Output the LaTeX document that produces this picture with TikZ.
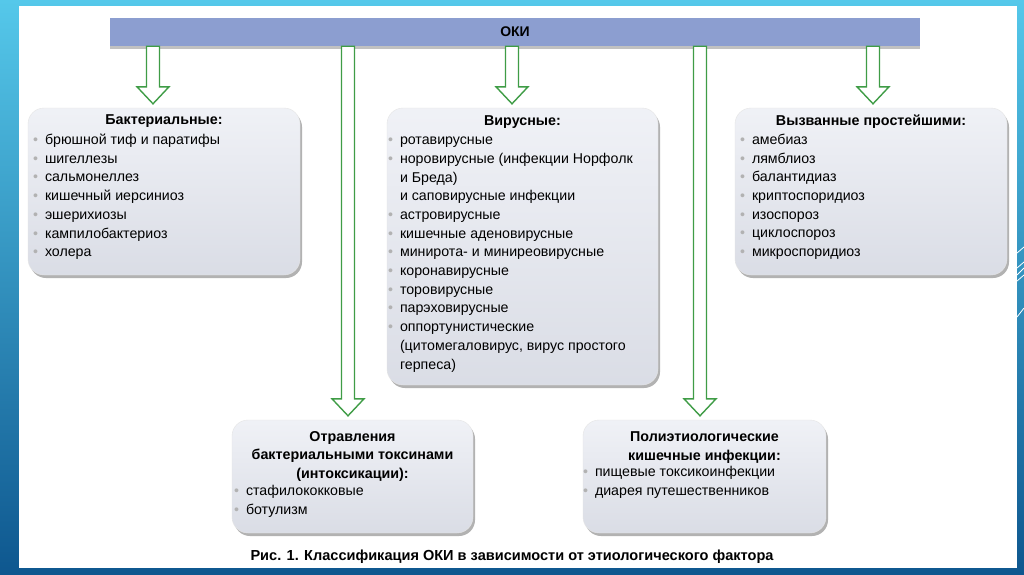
\documentclass[tikz,border=0pt]{standalone}
\usepackage{fontspec}
\setmainfont{Liberation Sans}
\usetikzlibrary{positioning,shadows,calc}
\definecolor{okigreen}{HTML}{3F9C46}
\definecolor{okibar}{HTML}{8C9ED0}
\definecolor{okifill}{HTML}{E3E6EF}
\definecolor{frametop}{HTML}{55C8EA}
\definecolor{framebot}{HTML}{0E578F}
\newcommand{\itm}{\makebox[12pt][l]{\textcolor{black!30}{\textbullet}}}
\newcommand{\cnt}{\hspace*{12pt}}
\newcommand{\okiarrow}[2]{%
  \draw[hollowarrow] let \p1=(oki.south), \p2=(#2.north) in
    (#1pt-6.5pt,\y1) -- (#1pt+6.5pt,\y1) -- (#1pt+6.5pt,\y2+21pt) -- (#1pt+16pt,\y2+21pt)
    -- (#1pt,\y2+4pt) -- (#1pt-16pt,\y2+21pt) -- (#1pt-6.5pt,\y2+21pt) -- cycle;}
\tikzset{
  okibox/.style={rounded corners=16pt, top color=okifill!55!white, bottom color=okifill!96!black,
    draw=black!10, drop shadow={shadow xshift=2pt, shadow yshift=-3pt, opacity=.5, fill=black!60}},
  okibarstyle/.style={fill=okibar, drop shadow={shadow xshift=0pt, shadow yshift=-3pt, opacity=.4, fill=black!60},
    minimum width=810pt, minimum height=28pt, font=\fontsize{14}{16}\selectfont\bfseries},
  hollowarrow/.style={draw=okigreen, fill=white, line width=1.4pt, line join=miter},
  boxtitle/.style={font=\fontsize{14.3}{18.4}\selectfont\bfseries, align=center, inner sep=0pt},
  boxlist/.style={font=\fontsize{14.2}{18.7}\selectfont, align=left, inner sep=0pt, anchor=north west},
  captiontext/.style={font=\fontsize{14.55}{18}\selectfont\bfseries, inner sep=0pt}
}
\begin{document}
\begin{tikzpicture}[x=1pt,y=-1pt]
  \useasboundingbox (0,0) rectangle (1024,574);
  \fill[top color=frametop, bottom color=framebot] (0,0) rectangle (1024,574);
  \fill[white] (19,6) rectangle (1017,568);
  \foreach \a/\b in {253/247,268/262,275/268,281/275,317/308}
    \draw[white, line width=0.8pt] (1017,\a) -- (1024,\b);

  \node[okibarstyle] (oki) at (515,32) {ОКИ};

  \node[okibox, minimum width=272pt, minimum height=167pt] (bact) at (164,191.5) {};
  \node[boxtitle, below=7pt of bact.north] (bacttitle) {Бактериальные:};
  \node[boxlist, below right=26pt and 5pt of bact.north west] (bactlist) {\itm брюшной тиф и паратифы\\
    \itm шигеллезы\\ \itm сальмонеллез\\ \itm кишечный иерсиниоз\\ \itm эшерихиозы\\
    \itm кампилобактериоз\\ \itm холера};

  \node[okibox, minimum width=271pt, minimum height=277pt] (vir) at (522.5,246.5) {};
  \node[boxtitle, below=8pt of vir.north] (virtitle) {Вирусные:};
  \node[boxlist, below right=29pt and 1pt of vir.north west] (virlist) {\itm ротавирусные\\
    \itm норовирусные (инфекции Норфолк\\ \cnt и Бреда)\\ \cnt и саповирусные инфекции\\
    \itm астровирусные\\ \itm кишечные аденовирусные\\ \itm минирота- и миниреовирусные\\
    \itm коронавирусные\\ \itm торовирусные\\ \itm парэховирусные\\ \itm оппортунистические\\
    \cnt (цитомегаловирус, вирус простого\\ \cnt герпеса)};

  \node[okibox, minimum width=272pt, minimum height=167pt] (prot) at (871,191.5) {};
  \node[boxtitle, below=7pt of prot.north] (prottitle) {Вызванные простейшими:};
  \node[boxlist, below right=26pt and 5pt of prot.north west] (protlist) {\itm амебиаз\\
    \itm лямблиоз\\ \itm балантидиаз\\ \itm криптоспоридиоз\\ \itm изоспороз\\
    \itm циклоспороз\\ \itm микроспоридиоз};

  \node[okibox, minimum width=241pt, minimum height=113pt] (toxin) at (352.5,476.5) {};
  \node[boxtitle, below=11.5pt of toxin.north] (toxintitle) {Отравления\\ бактериальными токсинами\\ (интоксикации):};
  \node[boxlist, below right=65pt and 2pt of toxin.north west] (toxinlist) {\itm стафилококковые\\ \itm ботулизм};

  \node[okibox, minimum width=243pt, minimum height=113pt] (poly) at (704.5,476.5) {};
  \node[boxtitle, below=12pt of poly.north] (polytitle) {Полиэтиологические\\ кишечные инфекции:};
  \node[boxlist, below right=46pt and 0pt of poly.north west] (polylist) {\itm пищевые токсикоинфекции\\ \itm диарея путешественников};

  \okiarrow{153}{bact}
  \okiarrow{348}{toxin}
  \okiarrow{512}{vir}
  \okiarrow{700}{poly}
  \okiarrow{873}{prot}

  \node[captiontext] (cap) at (512,557) {Рис. 1. Классификация ОКИ в зависимости от этиологического фактора};
\end{tikzpicture}
\end{document}
